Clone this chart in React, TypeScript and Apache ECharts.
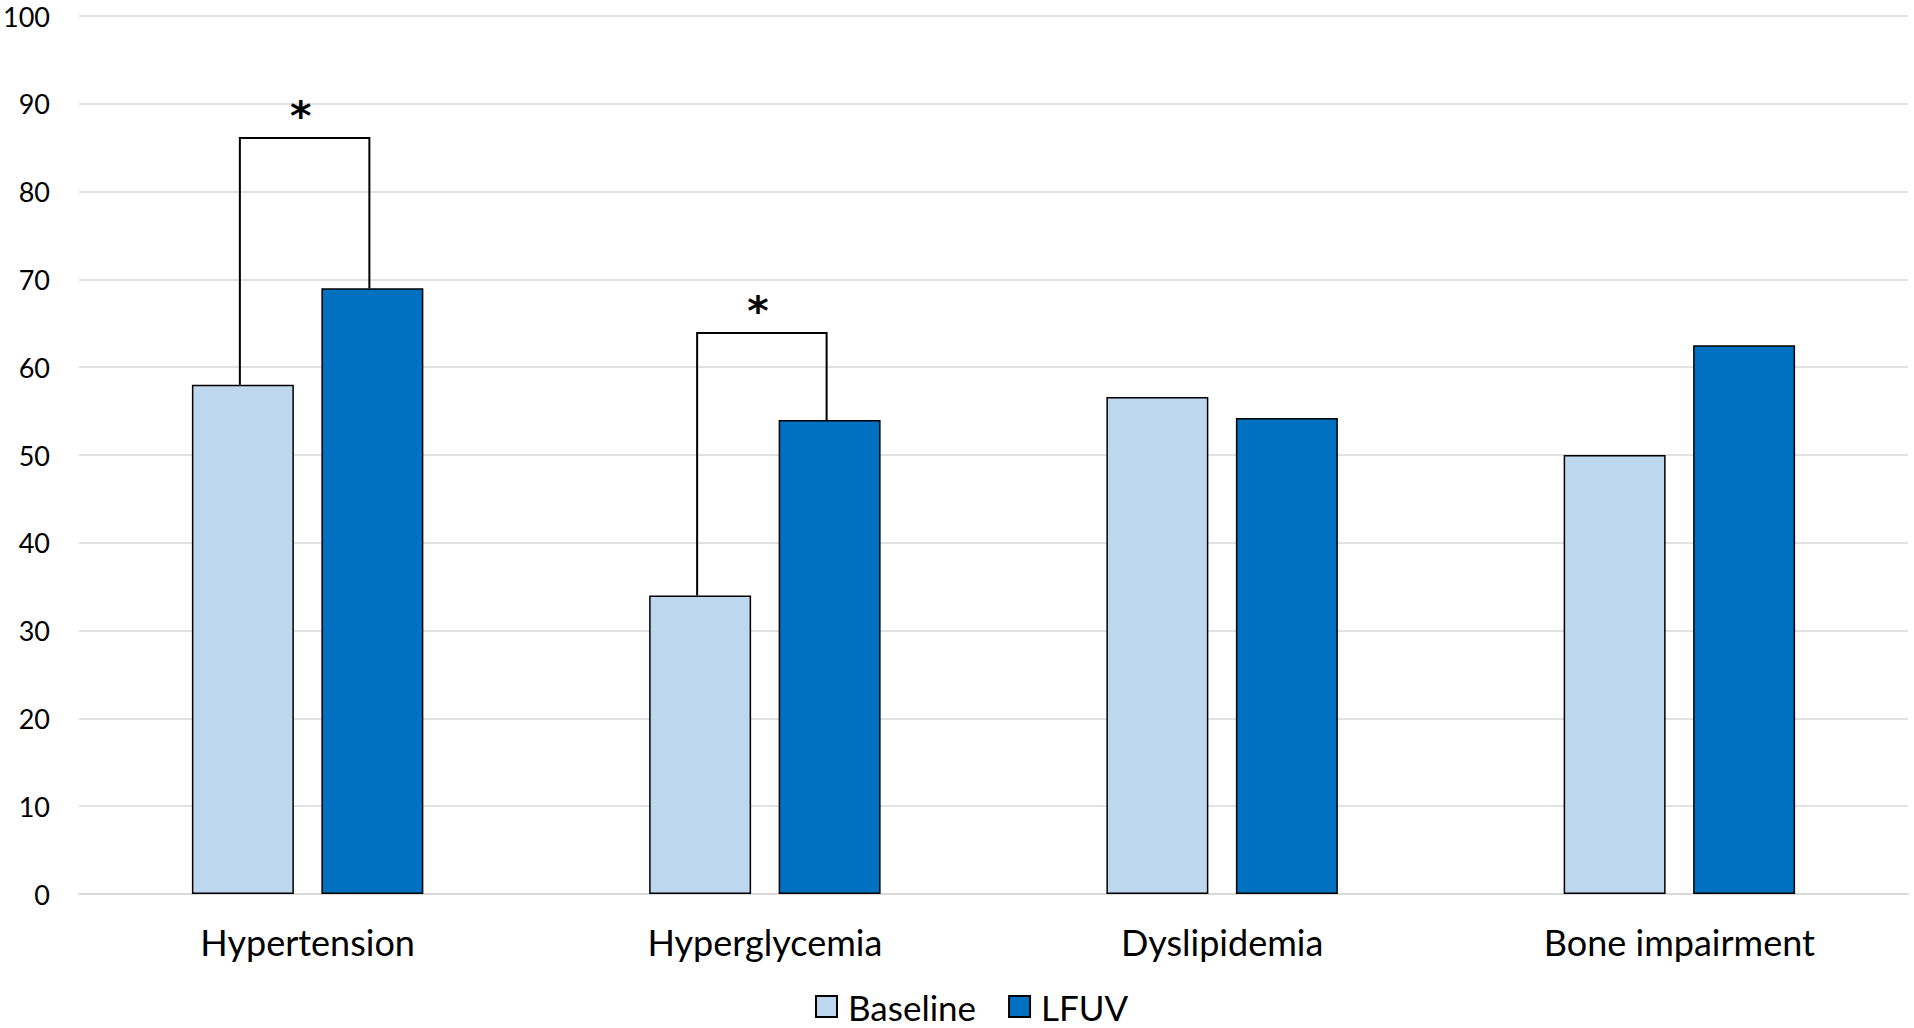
import React, { useEffect, useRef } from "react";
import * as echarts from "echarts";

const categories = ["Hypertension", "Hyperglycemia", "Dyslipidemia", "Bone impairment"];
const seriesNames = ["Baseline", "LFUV"];
const baselineValues = [58, 34, 56.6, 50];
const lfuvValues = [69, 54, 54.2, 62.5];
// significance brackets: [categoryIndex, bracketTop]
const bracketCategories = [0, 1];
const bracketTops = [86.1, 63.9];
const bracketLabels = ["*", "*"];
const yTicks = { min: 0, max: 100, interval: 10 };

const BAR_WIDTH_PCT = 22.3;
const BAR_GAP_PCT = 27;
const FONT = "Lato, 'Open Sans', 'Noto Sans', sans-serif";

export default function App() {
  const ref = useRef<HTMLDivElement>(null);
  useEffect(() => {
    document.body.style.margin = "0";
    const chart = echarts.init(ref.current!, undefined, { renderer: "svg" });
    const bracketData = bracketCategories.map((c, i) => [
      c,
      baselineValues[c],
      bracketTops[i],
      lfuvValues[c],
      i,
    ]);
    const offsetFrac = ((BAR_WIDTH_PCT / 100) * (1 + BAR_GAP_PCT / 100)) / 2;
    chart.setOption({
      animation: false,
      textStyle: { fontFamily: FONT },
      grid: { left: 79, right: 6, top: 16, bottom: 134, containLabel: false },
      xAxis: {
        type: "category",
        data: categories,
        axisLine: { show: true, lineStyle: { color: "#d9d9d9", width: 2 } },
        axisTick: { show: false },
        axisLabel: { color: "#000", fontSize: 36, margin: 30, fontFamily: FONT },
      },
      yAxis: {
        type: "value",
        min: yTicks.min,
        max: yTicks.max,
        interval: yTicks.interval,
        axisLine: { show: false },
        axisTick: { show: false },
        axisLabel: { color: "#000", fontSize: 27, margin: 29, fontFamily: FONT },
        splitLine: { lineStyle: { color: "#d9d9d9", width: 1.5 } },
      },
      legend: {
        data: seriesNames,
        left: 810,
        top: 984,
        itemWidth: 21,
        itemHeight: 21,
        itemGap: 32,
        icon: "rect",
        textStyle: { color: "#000", fontSize: 35, fontFamily: FONT, padding: [0, 0, 0, 6] },
      },
      series: [
        {
          name: seriesNames[0],
          type: "bar",
          data: baselineValues,
          barWidth: BAR_WIDTH_PCT + "%",
          barGap: BAR_GAP_PCT + "%",
          itemStyle: { color: "#BDD7EE", borderColor: "#000", borderWidth: 1.5 },
        },
        {
          name: seriesNames[1],
          type: "bar",
          data: lfuvValues,
          barWidth: BAR_WIDTH_PCT + "%",
          barGap: BAR_GAP_PCT + "%",
          itemStyle: { color: "#0070C0", borderColor: "#000", borderWidth: 1.5 },
        },
        {
          type: "custom",
          data: bracketData,
          encode: { x: 0, y: [1, 2, 3] },
          z: 10,
          clip: false,
          silent: true,
          renderItem: (params: any, api: any) => {
            const cat = api.value(0);
            const band = api.size([1, 0])[0];
            const off = band * offsetFrac;
            const center = api.coord([cat, 0])[0] - 3;
            const xL = center - off;
            const xR = center + off;
            const yL = api.coord([cat, api.value(1)])[1];
            const yT = api.coord([cat, api.value(2)])[1];
            const yR = api.coord([cat, api.value(3)])[1];
            const label = bracketLabels[api.value(4)];
            return {
              type: "group",
              children: [
                {
                  type: "polyline",
                  shape: { points: [[xL, yL], [xL, yT], [xR, yT], [xR, yR]] },
                  style: { stroke: "#000", lineWidth: 2, fill: null },
                },
                {
                  type: "text",
                  style: {
                    x: center - 4,
                    y: yT - 22,
                    text: label,
                    fontSize: 41,
                    fontWeight: "bold",
                    fontFamily: "'DejaVu Sans', sans-serif",
                    fill: "#000",
                    align: "center",
                    verticalAlign: "middle",
                  },
                },
              ],
            };
          },
        },
      ],
    });
    return () => chart.dispose();
  }, []);
  return <div ref={ref} style={{ width: 1914, height: 1028 }} />;
}
